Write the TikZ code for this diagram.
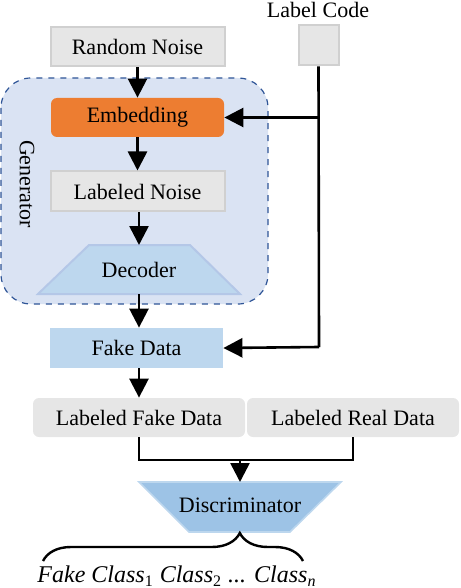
\documentclass[tikz,border=0pt]{standalone}
\usepackage{fontspec}
\setmainfont{Liberation Serif}
\usetikzlibrary{arrows.meta,decorations.pathreplacing,calc}
\definecolor{boxgray}{HTML}{E6E6E6}
\definecolor{bordgray}{HTML}{D0D0D0}
\definecolor{genfill}{HTML}{DAE3F3}
\definecolor{genbord}{HTML}{2F5597}
\definecolor{embor}{HTML}{ED7D31}
\definecolor{decfill}{HTML}{BDD7EE}
\definecolor{decbord}{HTML}{B4C7E7}
\definecolor{disfill}{HTML}{9DC3E6}
\definecolor{disbord}{HTML}{BDD7EE}
\begin{document}
\begin{tikzpicture}[x=0.5pt,y=-0.5pt,
  font=\fontsize{11}{13}\selectfont,
  graybox/.style={fill=boxgray,draw=bordgray,line width=1pt,inner sep=0pt},
  roundgray/.style={fill=boxgray,rounded corners=3pt,inner sep=0pt},
  conn/.style={line width=1.3pt,draw=black},
  arr/.style={conn,-{Triangle[length=9.5pt,width=9.5pt]}}]
\useasboundingbox (0,0) rectangle (460,588);
% generator container
\draw[fill=genfill,draw=genbord,dashed,line width=0.6pt,rounded corners=15pt] (1,78) rectangle (268,304);
\node[rotate=-90] (gen) at (27,184) {Generator};
% nodes
\node (lc) at (318,10) {Label Code};
\node[graybox,minimum width=20pt,minimum height=20pt] (lcbox) at (318.5,45.5) {};
\node[graybox,minimum width=87pt,minimum height=19.5pt] (rn) at (137.5,47) {Random Noise};
\node[fill=embor,rounded corners=3pt,minimum width=86.5pt,minimum height=19.5pt,inner sep=0pt] (emb) at (137.5,117.5) {Embedding};
\node[graybox,minimum width=87pt,minimum height=20pt] (ln) at (137.5,191.5) {Labeled Noise};
\draw[fill=decfill,draw=decbord,line width=1pt] (89,245) -- (190,245) -- (240,294) -- (38,294) -- cycle;
\node (dec) at (139,269.5) {Decoder};
\coordinate (dectop) at (139,245);
\coordinate (decbot) at (139,294);
\node[fill=decfill,minimum width=86.5pt,minimum height=20pt,inner sep=0pt] (fd) at (136.5,348) {Fake Data};
\node[roundgray,minimum width=106pt,minimum height=19.5pt] (lfd) at (139,417.5) {Labeled Fake Data};
\node[roundgray,minimum width=106pt,minimum height=19.5pt] (lrd) at (353,417.5) {Labeled Real Data};
\draw[fill=disfill,draw=disbord,line width=0.8pt] (139,482) -- (341,482) -- (290,532) -- (189,532) -- cycle;
\node (dis) at (240,505) {Discriminator};
\coordinate (distop) at (240,482);
% connectors
\draw[arr] (rn.south) -- (emb.north);
\draw[arr] (emb.south) -- (ln.north);
\draw[arr] (ln.south -| dectop) -- (dectop);
\draw[arr] (decbot) -- (fd.north -| decbot);
\coordinate (lcbend) at (319,347);
\coordinate (lcemb) at (319,117.5);
\draw[conn] (lcbox.south) -- (lcbend);
\draw[arr] (lcemb) -- (emb.east);
\draw[arr] (lcbend) -- (fd.east);
\draw[arr] (fd.south -| lfd.north) -- (lfd.north);
\coordinate (j) at (240,460);
\draw[conn] (lfd.south) -- (lfd.south |- j) -- (lrd.south |- j) -- (lrd.south);
\draw[arr] (j) -- (distop);
% brace
\coordinate (bl) at (43,561);
\coordinate (br) at (303,561);
\draw[line width=1.2pt,decorate,decoration={brace,amplitude=14pt,aspect=0.757}] (bl) -- (br);
\node (out) at (177,576) {\fontsize{12}{14}\selectfont\itshape Fake Class\textsubscript{\upshape 1} Class\textsubscript{\upshape 2} ... Class\textsubscript{n}};
\end{tikzpicture}
\end{document}
